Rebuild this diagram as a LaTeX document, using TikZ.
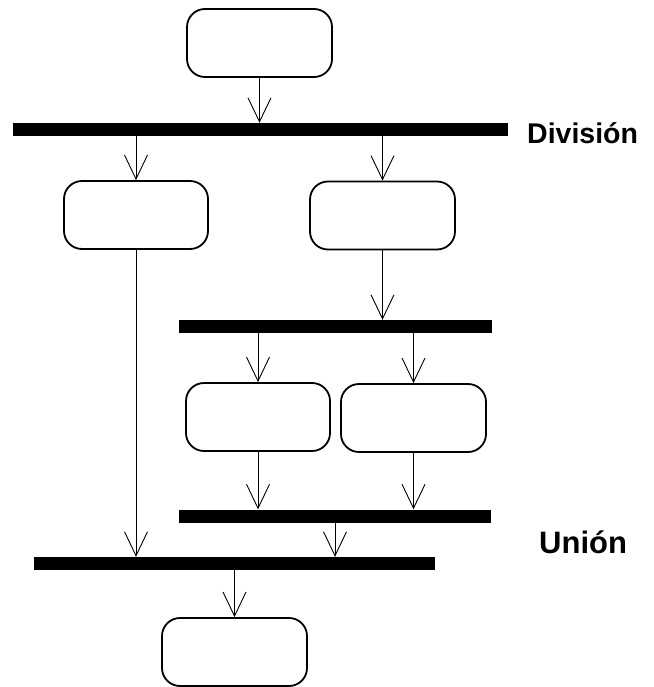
\documentclass[tikz,border=0pt]{standalone}
\usepackage{fontspec}
\setmainfont{Liberation Sans}
\usetikzlibrary{arrows.meta}
\tikzset{
  actbox/.style={draw, line width=1.8pt, rounded corners=18pt, minimum width=145pt, minimum height=68pt, inner sep=0pt},
  syncbar/.style={fill=black, inner sep=0pt, minimum height=13pt},
  flow/.style={line width=0.9pt, -{Straight Barb[length=24pt,width=23pt,line width=0.9pt]}},
  barlabel/.style={font=\fontsize{28.5}{32}\selectfont\bfseries, anchor=base west, inner sep=0pt}
}
\begin{document}
\begin{tikzpicture}[x=1pt, y=-1pt]
        \useasboundingbox (0,0) rectangle (653,687);
        % activities
        \node[actbox] (start) at (259.5,43) {};
        \node[actbox, minimum width=144pt] (left) at (136,215) {};
        \node[actbox] (right) at (382.5,215.5) {};
        \node[actbox, minimum width=144pt] (inner1) at (258,417) {};
        \node[actbox] (inner2) at (413.5,418) {};
        \node[actbox] (finish) at (234.5,652) {};
        % bars
        \node[syncbar, minimum width=495pt] (fork) at (260.5,129.5) {};
        \node[syncbar, minimum width=313pt] (subfork) at (335.5,326.5) {};
        \node[syncbar, minimum width=312pt] (subjoin) at (335,516) {};
        \node[syncbar, minimum width=401pt] (join) at (234.5,563.5) {};
        \node[barlabel] (division) at (527,144) {División};
        \node[barlabel, font=\fontsize{31}{34}\selectfont\bfseries] (union) at (539,553) {Unión};
        % flows
        \draw[flow] (start.south) -- (start.south |- fork.north);
        \draw[flow] (left.north |- fork.south) -- (left.north);
        \draw[flow] (right.north |- fork.south) -- (right.north);
        \draw[flow] (right.south) -- (right.south |- subfork.north);
        \draw[flow] (inner1.north |- subfork.south) -- (inner1.north);
        \draw[flow] (inner2.north |- subfork.south) -- (inner2.north);
        \draw[flow] (inner1.south) -- (inner1.south |- subjoin.north);
        \draw[flow] (inner2.south) -- (inner2.south |- subjoin.north);
        \draw[flow] (left.south) -- (left.south |- join.north);
        \draw[flow] (subjoin.south) -- (subjoin.south |- join.north);
        \draw[flow] (join.south) -- (finish.north);
      \end{tikzpicture}
\end{document}
